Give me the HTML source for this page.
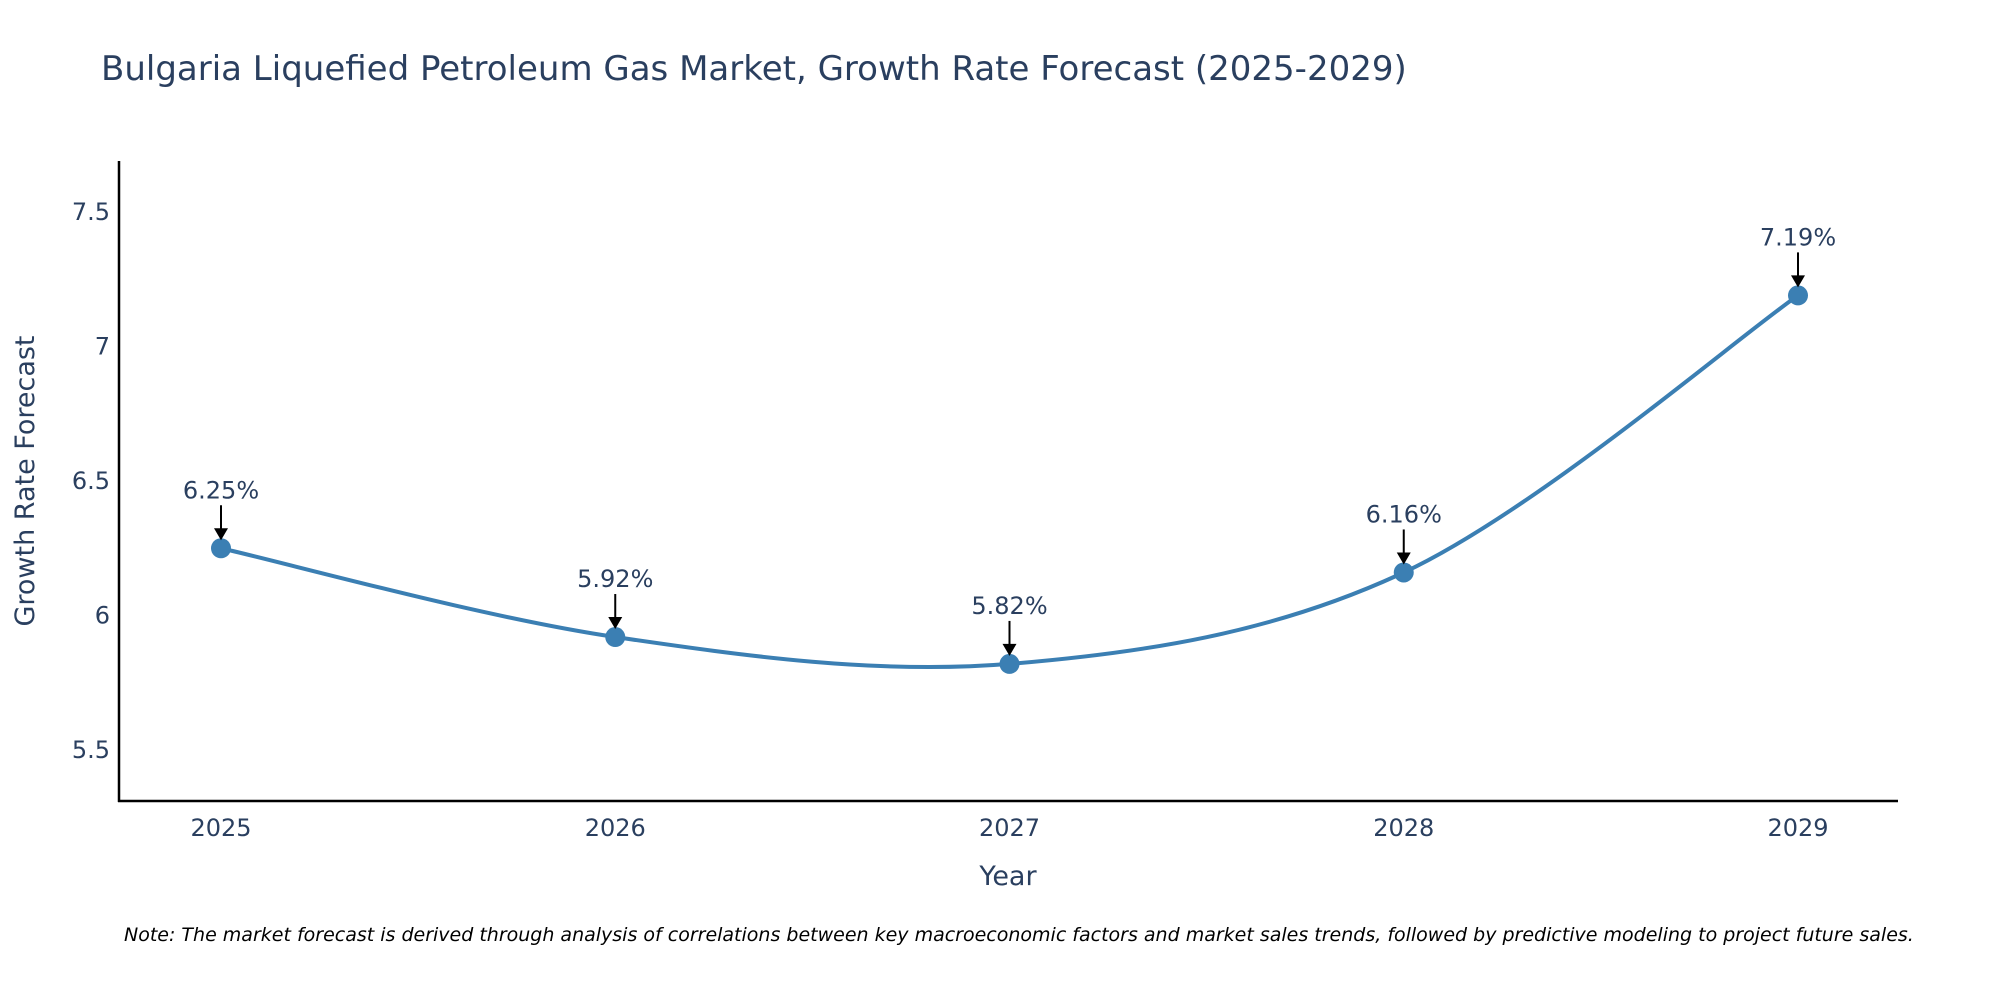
<!DOCTYPE html>
<html><head><meta charset="utf-8"><style>
html,body{margin:0;padding:0;background:#fff;}
svg{display:block;font-family:"DejaVu Sans","Liberation Sans",sans-serif;}
</style></head><body>
<svg id="chart" width="2000" height="1000" viewBox="0 0 2000 1000" xmlns="http://www.w3.org/2000/svg">
<rect width="2000" height="1000" fill="#fff"/>
<text x="101" y="80" font-size="34" fill="#2a3f5f">Bulgaria Liquefied Petroleum Gas Market, Growth Rate Forecast (2025-2029)</text>
<g id="yticks"></g>
<g id="xticks"></g>
<line x1="119" y1="161" x2="119" y2="802" stroke="#000" stroke-width="2.5"/>
<line x1="118" y1="801" x2="1898" y2="801" stroke="#000" stroke-width="2.5"/>
<g id="series"></g>
<g id="annots"></g>
<text x="1008" y="885" font-size="27" fill="#2a3f5f" text-anchor="middle">Year</text>
<text transform="translate(34,481) rotate(-90)" font-size="27" fill="#2a3f5f" text-anchor="middle">Growth Rate Forecast</text>
<text x="124" y="941" font-size="19" font-style="italic" fill="#000">Note: The market forecast is derived through analysis of correlations between key macroeconomic factors and market sales trends, followed by predictive modeling to project future sales.</text>
</svg>
<script>
const years = [2025, 2026, 2027, 2028, 2029];
const growth = [6.25, 5.92, 5.82, 6.16, 7.19];
const yTickValues = [5.5, 6, 6.5, 7, 7.5];
const yTickLabels = ["5.5", "6", "6.5", "7", "7.5"];

const NS = "http://www.w3.org/2000/svg";
const xScale = v => 221 + (v - 2025) * (1798 - 221) / 4;
const yScale = v => 750 - (v - 5.5) * (750 - 212) / 2;
function mk(tag, attrs, parent){const e=document.createElementNS(NS,tag);for(const k in attrs)e.setAttribute(k,attrs[k]);parent.appendChild(e);return e;}

const yt = document.getElementById('yticks');
yTickValues.forEach((v,i)=>{
  const t = mk('text',{x:110,y:yScale(v)+8,'font-size':24,fill:'#2a3f5f','text-anchor':'end'},yt);
  
  
  t.textContent = yTickLabels[i];
});
const xt = document.getElementById('xticks');
years.forEach(y=>{
  const t = mk('text',{x:xScale(y),y:836,'font-size':24,fill:'#2a3f5f','text-anchor':'middle'},xt);
  
  
  t.textContent = String(y);
});

const pts = years.map((y,i)=>[xScale(y), yScale(growth[i])]);
let d = `M${pts[0][0]},${pts[0][1]}`;
for(let i=0;i<pts.length-1;i++){
  const p0=pts[Math.max(0,i-1)],p1=pts[i],p2=pts[i+1],p3=pts[Math.min(pts.length-1,i+2)];
  const t=1/6;
  const c1=[p1[0]+(p2[0]-p0[0])*t,p1[1]+(p2[1]-p0[1])*t];
  const c2=[p2[0]-(p3[0]-p1[0])*t,p2[1]-(p3[1]-p1[1])*t];
  d+=` C${c1[0]},${c1[1]} ${c2[0]},${c2[1]} ${p2[0]},${p2[1]}`;
}
const s = document.getElementById('series');
const line = mk('path',{d:d,fill:'none',stroke:'#3b7fb3','stroke-width':4},s);


pts.forEach(p=>{
  const c = mk('circle',{cx:p[0],cy:p[1],r:10,fill:'#3b7fb3'},s);
  
  
});

const a = document.getElementById('annots');
pts.forEach((p,i)=>{
  const line2 = mk('line',{x1:p[0],y1:p[1]-43,x2:p[0],y2:p[1]-18,stroke:'#000','stroke-width':2},a);
  
  
  const head = mk('path',{d:`M${p[0]-7},${p[1]-20} L${p[0]+7},${p[1]-20} L${p[0]},${p[1]-8} Z`,fill:'#000'},a);
  
  
  const t = mk('text',{x:p[0],y:p[1]-50,'font-size':24,fill:'#2a3f5f','text-anchor':'middle'},a);
  
  
  t.textContent = growth[i].toFixed(2)+'%';
});
</script>
</body></html>
